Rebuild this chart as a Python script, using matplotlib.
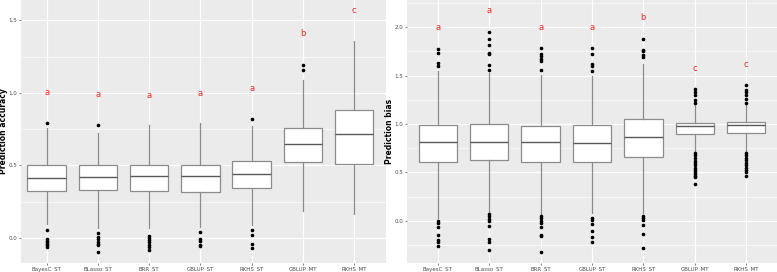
import matplotlib
matplotlib.use("Agg")
import matplotlib.pyplot as plt
from matplotlib.ticker import MultipleLocator

models = ["BayesC_ST", "BLasso_ST", "BRR_ST", "GBLUP_ST", "RKHS_ST", "GBLUP_MT", "RKHS_MT"]

# ---- prediction accuracy (left) ----
acc_q1  = [0.324, 0.329, 0.324, 0.318, 0.345, 0.522, 0.513]
acc_med = [0.416, 0.423, 0.430, 0.426, 0.444, 0.651, 0.718]
acc_q3  = [0.500, 0.506, 0.506, 0.506, 0.531, 0.755, 0.879]
acc_wlo = [0.099, 0.070, 0.070, 0.076, 0.087, 0.186, 0.168]
acc_whi = [0.755, 0.725, 0.778, 0.790, 0.775, 1.088, 1.357]
acc_fliers = [
    [0.79, 0.053, -0.01, -0.02, -0.03, -0.04, -0.05, -0.06],
    [0.778, 0.037, 0.007, -0.01, -0.025, -0.04, -0.05, -0.097],
    [0.016, 0.0, -0.015, -0.03, -0.045, -0.06, -0.08],
    [0.041, -0.005, -0.02, -0.045, -0.058],
    [0.819, 0.053, 0.023, -0.044, -0.071],
    [1.19, 1.16],
    [],
]
acc_letters = ["a", "a", "a", "a", "a", "b", "c"]
acc_letter_y = [1.00, 0.99, 0.985, 0.996, 1.03, 1.41, 1.569]

# ---- prediction bias (right) ----
bias_q1  = [0.603, 0.624, 0.607, 0.610, 0.659, 0.900, 0.903]
bias_med = [0.810, 0.810, 0.810, 0.800, 0.866, 0.976, 0.986]
bias_q3  = [0.993, 0.997, 0.980, 0.986, 1.048, 1.014, 1.024]
bias_wlo = [0.03, 0.08, 0.06, 0.08, 0.08, 0.72, 0.72]
bias_whi = [1.55, 1.53, 1.51, 1.50, 1.62, 1.20, 1.20]
bias_fliers = [
    [1.60, 1.63, 1.73, 1.78, 0.0, -0.02, -0.06, -0.15, -0.20, -0.22, -0.26],
    [1.56, 1.61, 1.72, 1.73, 1.82, 1.88, 1.95, 0.07, 0.05, 0.02, 0.0, -0.05, -0.19, -0.22, -0.30],
    [1.56, 1.65, 1.67, 1.70, 1.72, 1.79, 0.05, 0.03, 0.0, -0.02, -0.06, -0.15, -0.16, -0.32],
    [1.55, 1.60, 1.62, 1.72, 1.79, 0.03, 0.01, -0.03, -0.11, -0.17, -0.22],
    [1.69, 1.71, 1.75, 1.77, 1.88, 0.05, 0.03, 0.01, -0.04, -0.14, -0.28],
    [1.22, 1.25, 1.30, 1.33, 1.36, 0.70, 0.68, 0.65, 0.62, 0.60, 0.58, 0.55, 0.52, 0.50, 0.48, 0.46, 0.45, 0.38],
    [1.22, 1.26, 1.30, 1.33, 1.35, 1.40, 0.70, 0.68, 0.65, 0.63, 0.60, 0.58, 0.55, 0.52, 0.50, 0.46],
]
bias_letters = ["a", "a", "a", "a", "b", "c", "c"]
bias_letter_y = [2.00, 2.17, 2.00, 2.00, 2.10, 1.57, 1.62]


def stats(q1, med, q3, wlo, whi, fl):
    return [dict(q1=a, med=b, q3=c, whislo=d, whishi=e, fliers=f, label=m)
            for a, b, c, d, e, f, m in zip(q1, med, q3, wlo, whi, fl, models)]


def panel(ax, st, letters, letter_y, ylabel, ylim, xlim, label_x):
    ax.set_facecolor("#EBEBEB")
    ax.yaxis.set_major_locator(MultipleLocator(0.5))
    ax.yaxis.set_minor_locator(MultipleLocator(0.25))
    ax.grid(which="major", color="white", lw=0.9)
    ax.grid(which="minor", axis="y", color="white", lw=0.45)
    ax.set_axisbelow(True)
    ax.bxp(st, positions=range(1, 8), widths=0.75, patch_artist=True,
           showcaps=False,
           boxprops=dict(facecolor="white", edgecolor="#8c8c8c", lw=0.9),
           medianprops=dict(color="#595959", lw=1.0),
           whiskerprops=dict(color="#8c8c8c", lw=0.9),
           flierprops=dict(marker="o", markersize=1.6, markerfacecolor="black",
                           markeredgecolor="black"))
    for i, (t, y) in enumerate(zip(letters, letter_y)):
        ax.text(i + 1, y, t, color="#ff2020", fontsize=6, ha="center", va="center")
    ax.set_xlim(*xlim)
    ax.set_ylim(*ylim)
    ax.set_xticks(range(1, 8))
    ax.set_xticklabels(models)
    ax.tick_params(which="both", labelsize=4.0, colors="#4d4d4d", length=1.5, width=0.5, pad=1.2)
    ax.tick_params(which="minor", length=0)
    ax.set_ylabel(ylabel, fontsize=5.5, fontweight="bold")
    ax.yaxis.set_label_coords(label_x, 0.5)
    for s in ax.spines.values():
        s.set_visible(False)


fig = plt.figure(figsize=(7.77, 2.72), dpi=100)
axL = fig.add_axes([21 / 777, 9 / 272, 365 / 777, 263 / 272])
axR = fig.add_axes([407 / 777, 9 / 272, 370 / 777, 263 / 272])

panel(axL, stats(acc_q1, acc_med, acc_q3, acc_wlo, acc_whi, acc_fliers),
      acc_letters, acc_letter_y, "Prediction accuracy", (-0.172, 1.64), (0.5, 7.62), -0.036)
panel(axR, stats(bias_q1, bias_med, bias_q3, bias_wlo, bias_whi, bias_fliers),
      bias_letters, bias_letter_y, "Prediction bias", (-0.437, 2.282), (0.4, 7.6), -0.034)

fig.savefig("out.png", dpi=100)
